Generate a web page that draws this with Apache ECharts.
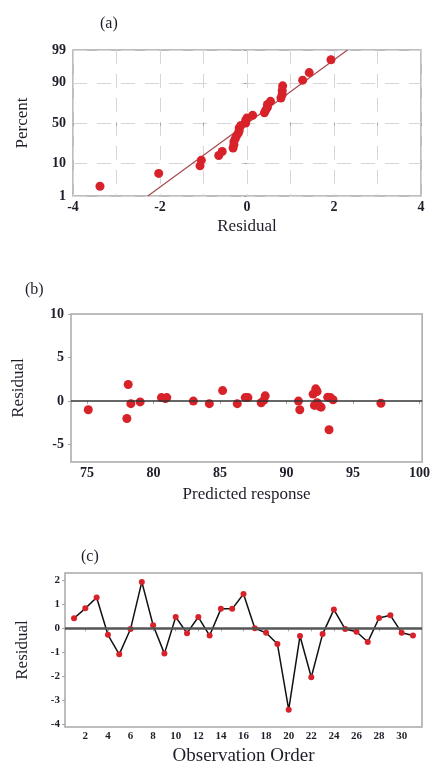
<!DOCTYPE html>
<html><head><meta charset="utf-8">
<script src="https://cdn.jsdelivr.net/npm/echarts@6/dist/echarts.min.js"></script>
<style>html,body{margin:0;padding:0;background:#fff}#c{width:433px;height:767px}</style>
</head><body><div id="c"></div>
<script>
// (a) normal probability plot
const probResidual = [-3.38, -2.03, -1.08, -1.05, -0.65, -0.57, -0.32, -0.30, -0.30, -0.27, -0.24, -0.20, -0.18, -0.18, -0.14, -0.03, -0.03, 0.00, 0.13, 0.40, 0.43, 0.47, 0.47, 0.54, 0.78, 0.81, 0.81, 0.82, 1.28, 1.43, 1.93];
const probPercent = [2.2, 5.4, 8.6, 11.8, 15.0, 18.2, 21.3, 24.5, 27.7, 30.9, 34.1, 37.3, 40.4, 43.6, 46.8, 50.0, 53.2, 56.4, 59.6, 62.7, 65.9, 69.1, 72.3, 75.5, 78.7, 81.8, 85.0, 88.2, 91.4, 94.6, 97.8];
const fitResidual = [-2.28, 2.31];
const fitPercent = [1, 99];
const percentTicks = [1, 10, 50, 90, 99];
const residualTicksA = [-4, -2, 0, 2, 4];

// (b) residual vs predicted response
const predicted = [75.1, 78.1, 78.0, 78.3, 79.0, 80.6, 80.9, 81.0, 83.0, 84.2, 85.2, 86.3, 86.9, 87.1, 88.1, 88.4, 88.3, 90.9, 91.0, 92.0, 92.2, 92.3, 92.1, 92.5, 92.3, 92.6, 93.1, 93.3, 93.5, 93.2, 97.1];
const residualB = [-1.0, 1.9, -2.0, -0.3, -0.1, 0.4, 0.3, 0.4, 0.0, -0.3, 1.2, -0.3, 0.4, 0.4, -0.2, 0.6, 0.1, 0.0, -1.0, 0.8, 1.4, 1.1, -0.5, -0.6, -0.2, -0.7, 0.45, 0.4, 0.15, -3.3, -0.25];
const predictedTicks = [75, 80, 85, 90, 95, 100];
const residualTicksB = [-5, 0, 5, 10];

// (c) residual vs observation order
const observation = [1, 2, 3, 4, 5, 6, 7, 8, 9, 10, 11, 12, 13, 14, 15, 16, 17, 18, 19, 20, 21, 22, 23, 24, 25, 26, 27, 28, 29, 30, 31];
const residualC = [0.42, 0.83, 1.28, -0.27, -1.08, -0.03, 1.93, 0.13, -1.05, 0.47, -0.20, 0.47, -0.30, 0.81, 0.81, 1.43, 0.00, -0.18, -0.65, -3.38, -0.32, -2.03, -0.24, 0.78, -0.03, -0.14, -0.57, 0.43, 0.54, -0.18, -0.30];
const orderTicks = [2, 4, 6, 8, 10, 12, 14, 16, 18, 20, 22, 24, 26, 28, 30];
const residualTicksC = [-4, -3, -2, -1, 0, 1, 2];

// normal probability scale (percent -> z)
function probit(pct) {
  const p = pct / 100;
  const a = [-3.969683028665376e+01, 2.209460984245205e+02, -2.759285104469687e+02, 1.383577518672690e+02, -3.066479806614716e+01, 2.506628277459239e+00];
  const b = [-5.447609879822406e+01, 1.615858368580409e+02, -1.556989798598866e+02, 6.680131188771972e+01, -1.328068155288572e+01];
  const c = [-7.784894002430293e-03, -3.223964580411365e-01, -2.400758277161838e+00, -2.549732539343734e+00, 4.374664141464968e+00, 2.938163982698783e+00];
  const d = [7.784695709041462e-03, 3.224671290700398e-01, 2.445134137142996e+00, 3.754408661907416e+00];
  const pl = 0.02425, ph = 1 - pl;
  let q, r;
  if (p < pl) {
    q = Math.sqrt(-2 * Math.log(p));
    return (((((c[0]*q+c[1])*q+c[2])*q+c[3])*q+c[4])*q+c[5]) / ((((d[0]*q+d[1])*q+d[2])*q+d[3])*q+1);
  } else if (p <= ph) {
    q = p - 0.5; r = q * q;
    return (((((a[0]*r+a[1])*r+a[2])*r+a[3])*r+a[4])*r+a[5])*q / (((((b[0]*r+b[1])*r+b[2])*r+b[3])*r+b[4])*r+1);
  } else {
    q = Math.sqrt(-2 * Math.log(1 - p));
    return -(((((c[0]*q+c[1])*q+c[2])*q+c[3])*q+c[4])*q+c[5]) / ((((d[0]*q+d[1])*q+d[2])*q+d[3])*q+1);
  }
}

const zTicks = percentTicks.map(probit);
const FONT = 'Liberation Serif';
const TXT = '#1e1e2a';
const RED = '#d8222a';
const BORDER = '#a8a8a8';

function labelStyle(size, margin) {
  return { fontFamily: FONT, fontSize: size, fontWeight: 'bold', color: TXT, margin: margin };
}
function nameStyle(size) {
  return { fontFamily: FONT, fontSize: size, color: TXT };
}
const tickStyle = { show: true, length: 3, lineStyle: { color: BORDER, width: 1 } };

const chart = echarts.init(document.getElementById('c'));
chart.setOption({
  backgroundColor: '#fff',
  animation: false,
  title: [
    { text: '(a)', left: 100, top: 16, padding: 0, textStyle: { fontFamily: FONT, fontSize: 16, fontWeight: 'normal', color: TXT } },
    { text: '(b)', left: 25, top: 282, padding: 0, textStyle: { fontFamily: FONT, fontSize: 16, fontWeight: 'normal', color: TXT } },
    { text: '(c)', left: 81, top: 549, padding: 0, textStyle: { fontFamily: FONT, fontSize: 16, fontWeight: 'normal', color: TXT } }
  ],
  grid: [
    { left: 73, top: 50, width: 348, height: 146, show: true, borderColor: BORDER, borderWidth: 1.5, backgroundColor: '#fff' },
    { left: 71, top: 314, width: 352, height: 148, show: true, borderColor: BORDER, borderWidth: 1.5, backgroundColor: '#fff' },
    { left: 65, top: 573, width: 357, height: 159, show: true, borderColor: BORDER, borderWidth: 1.5, backgroundColor: '#fff' }
  ],
  xAxis: [
    { gridIndex: 0, type: 'value', min: -4, max: 4, interval: 1,
      axisLine: { show: false },
      axisTick: Object.assign({}, tickStyle, { customValues: [-4, -3, -2, -1, 0, 1, 2, 3, 4] }),
      axisLabel: Object.assign(labelStyle(14, 4), { customValues: residualTicksA }),
      splitLine: { show: true, lineStyle: { color: '#d6d6d6', width: 1, type: [14, 10] } },
      name: 'Residual', nameLocation: 'middle', nameGap: 22, nameTextStyle: nameStyle(17) },
    { gridIndex: 1, type: 'value', min: 73.8, max: 100.2,
      axisLine: { show: false },
      axisTick: Object.assign({}, tickStyle, { customValues: predictedTicks }),
      axisLabel: Object.assign(labelStyle(14, 4), { customValues: predictedTicks }),
      splitLine: { show: false },
      name: 'Predicted response', nameLocation: 'middle', nameGap: 24, nameTextStyle: nameStyle(17) },
    { gridIndex: 2, type: 'value', min: 0.2, max: 31.8,
      axisLine: { show: false },
      axisTick: Object.assign({}, tickStyle, { customValues: orderTicks }),
      axisLabel: Object.assign(labelStyle(11, 4), { customValues: orderTicks }),
      splitLine: { show: false },
      name: 'Observation Order', nameLocation: 'middle', nameGap: 20, nameTextStyle: nameStyle(19) }
  ],
  yAxis: [
    { gridIndex: 0, type: 'value', min: probit(1), max: probit(99),
      axisLine: { show: false },
      axisTick: Object.assign({}, tickStyle, { customValues: zTicks }),
      axisLabel: Object.assign(labelStyle(14, 7), { customValues: zTicks,
        formatter: function (v) {
          let best = 0;
          for (let i = 0; i < zTicks.length; i++) if (Math.abs(zTicks[i] - v) < Math.abs(zTicks[best] - v)) best = i;
          return String(percentTicks[best]);
        } }),
      splitLine: { show: true, lineStyle: { color: '#d6d6d6', width: 1, type: [14, 10] } },
      name: 'Percent', nameLocation: 'middle', nameGap: 42, nameTextStyle: nameStyle(17) },
    { gridIndex: 1, type: 'value', min: -7, max: 10,
      axisLine: { show: false },
      axisTick: Object.assign({}, tickStyle, { customValues: residualTicksB }),
      axisLabel: Object.assign(labelStyle(14, 7), { customValues: residualTicksB }),
      splitLine: { show: false },
      name: 'Residual', nameLocation: 'middle', nameGap: 44, nameTextStyle: nameStyle(17) },
    { gridIndex: 2, type: 'value', min: -4.1, max: 2.3,
      axisLine: { show: false },
      axisTick: Object.assign({}, tickStyle, { customValues: residualTicksC }),
      axisLabel: Object.assign(labelStyle(11, 5), { customValues: residualTicksC }),
      splitLine: { show: false },
      name: 'Residual', nameLocation: 'middle', nameGap: 34, nameTextStyle: nameStyle(17) }
  ],
  series: [
    { type: 'line', xAxisIndex: 0, yAxisIndex: 0, z: 2, symbol: 'none', silent: true,
      data: fitResidual.map((x, i) => [x, probit(fitPercent[i])]),
      lineStyle: { color: '#a8484e', width: 1.2 } },
    { type: 'scatter', xAxisIndex: 0, yAxisIndex: 0, z: 3, symbolSize: 9,
      data: probResidual.map((x, i) => [x, probit(probPercent[i])]),
      itemStyle: { color: RED, opacity: 1 } },
    { type: 'line', xAxisIndex: 1, yAxisIndex: 1, z: 2, data: [], symbol: 'none',
      markLine: { silent: true, symbol: 'none', label: { show: false },
        lineStyle: { color: '#333', width: 1.5, type: 'solid' }, data: [{ yAxis: 0 }] } },
    { type: 'scatter', xAxisIndex: 1, yAxisIndex: 1, z: 3, symbolSize: 9,
      data: predicted.map((x, i) => [x, residualB[i]]),
      itemStyle: { color: RED, opacity: 1 } },
    { type: 'line', xAxisIndex: 2, yAxisIndex: 2, z: 2, data: [], symbol: 'none',
      markLine: { silent: true, symbol: 'none', label: { show: false },
        lineStyle: { color: '#555', width: 2.5, type: 'solid' }, data: [{ yAxis: 0 }] } },
    { type: 'line', xAxisIndex: 2, yAxisIndex: 2, z: 3, symbol: 'circle', symbolSize: 6,
      data: observation.map((x, i) => [x, residualC[i]]),
      lineStyle: { color: '#111', width: 1.5 },
      itemStyle: { color: RED, opacity: 1 } }
  ]
});
</script>
</body></html>
